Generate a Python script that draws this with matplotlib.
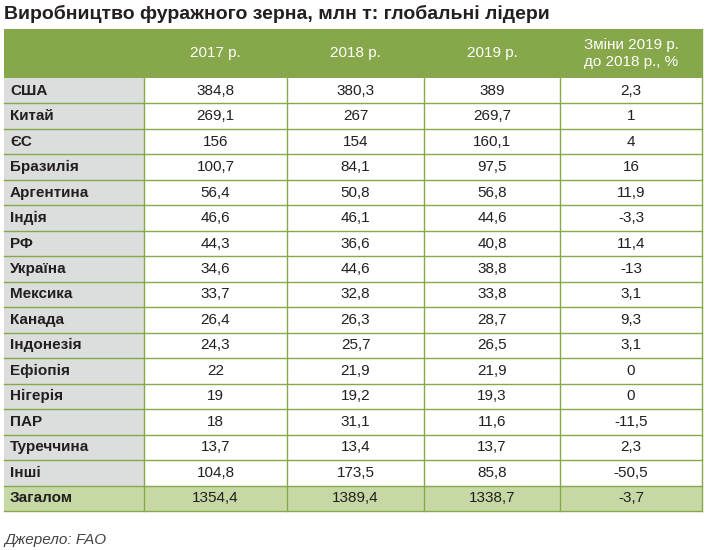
import matplotlib.pyplot as plt
from matplotlib.patches import Rectangle

plt.rcParams["font.family"] = "Liberation Sans"

title = "Виробництво фуражного зерна, млн т: глобальні лідери"
headers = ["2017 р.", "2018 р.", "2019 р.", "Зміни 2019 р.\nдо 2018 р., %"]
countries = ["США", "Китай", "ЄС", "Бразилія", "Аргентина", "Індія", "РФ", "Україна",
             "Мексика", "Канада", "Індонезія", "Ефіопія", "Нігерія", "ПАР", "Туреччина",
             "Інші", "Загалом"]
y2017 = ["384,8", "269,1", "156", "100,7", "56,4", "46,6", "44,3", "34,6", "33,7", "26,4",
         "24,3", "22", "19", "18", "13,7", "104,8", "1354,4"]
y2018 = ["380,3", "267", "154", "84,1", "50,8", "46,1", "36,6", "44,6", "32,8", "26,3",
         "25,7", "21,9", "19,2", "31,1", "13,4", "173,5", "1389,4"]
y2019 = ["389", "269,7", "160,1", "97,5", "56,8", "44,6", "40,8", "38,8", "33,8", "28,7",
         "26,5", "21,9", "19,3", "11,6", "13,7", "85,8", "1338,7"]
change = ["2,3", "1", "4", "16", "11,9", "-3,3", "11,4", "-13", "3,1", "9,3", "3,1",
          "0", "0", "-11,5", "2,3", "-50,5", "-3,7"]
source = "Джерело: FAO"

GREEN = "#86a84a"
LIGHT = "#c6d9a5"
GREY = "#dcdddd"
TXT = "#231f20"

fig = plt.figure(figsize=(7.07, 5.5), dpi=100)
ax = fig.add_axes([0, 0, 1, 1])
ax.set_xlim(0, 707)
ax.set_ylim(550, 0)
ax.axis("off")

xs = [4, 144, 287, 424, 560, 702]
top, hbot, bot = 29, 78, 511
rh = (bot - hbot) / len(countries)

ax.text(4, 14, title, fontsize=14, fontweight="bold", color=TXT, va="center", ha="left")
ax.add_patch(Rectangle((xs[0], top), xs[-1] - xs[0], hbot - top, color=GREEN, lw=0))
for i, h in enumerate(headers):
    ax.text((xs[i + 1] + xs[i + 2]) / 2, (top + hbot) / 2, h, color="white",
            fontsize=11, ha="center", va="center", linespacing=1.3)

cols = [y2017, y2018, y2019, change]
for r, name in enumerate(countries):
    y0 = hbot + r * rh
    last = r == len(countries) - 1
    ax.add_patch(Rectangle((xs[0], y0), xs[1] - xs[0], rh, color=LIGHT if last else GREY, lw=0))
    if last:
        ax.add_patch(Rectangle((xs[1], y0), xs[-1] - xs[1], rh, color=LIGHT, lw=0))
    ax.text(xs[0] + 6, y0 + rh / 2, name, fontsize=11, fontweight="bold", color=TXT,
            va="center", ha="left")
    for c, vals in enumerate(cols):
        ax.text((xs[c + 1] + xs[c + 2]) / 2, y0 + rh / 2, vals[r], fontsize=11,
                color=TXT, va="center", ha="center")
    ax.plot([xs[0], xs[-1]], [y0 + rh, y0 + rh], color=GREEN, lw=1)

for x in xs[1:-1]:
    ax.plot([x, x], [hbot, bot], color=GREEN, lw=1)
ax.plot([xs[-1], xs[-1]], [top, bot], color=GREEN, lw=1)

ax.text(4, 540, source, fontsize=11, style="italic", color="#444444", va="center", ha="left")

fig.savefig("out.png", dpi=100)
